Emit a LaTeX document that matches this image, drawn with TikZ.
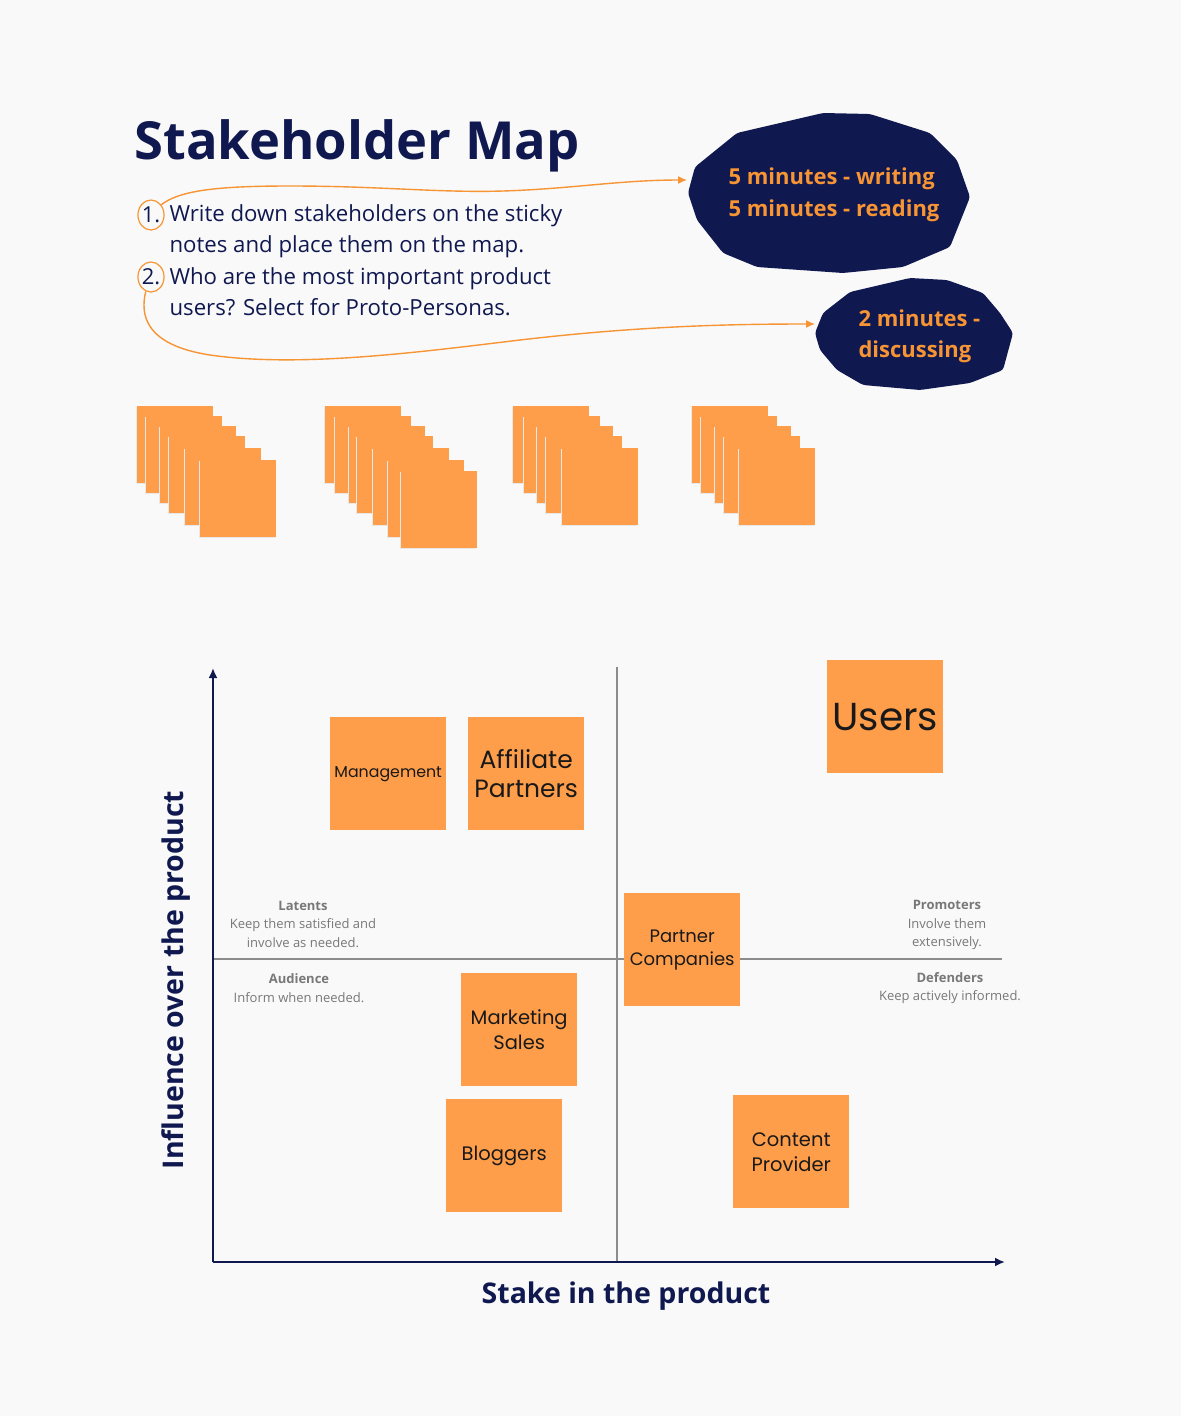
\documentclass[tikz,border=0pt]{standalone}
\usepackage{fontspec}
\setmainfont{Open Sans}
\newfontfamily\notefont{Poppins}
\usetikzlibrary{arrows.meta,shapes.geometric}
\definecolor{navy}{RGB}{16,24,80}
\definecolor{stickyorange}{RGB}{255,158,74}
\definecolor{linkorange}{RGB}{247,148,52}
\definecolor{quadgrey}{RGB}{140,140,140}
\definecolor{labelgrey}{RGB}{120,120,120}
\definecolor{paper}{RGB}{249,249,249}
\tikzset{
    sticky/.style 2 args={fill=stickyorange, minimum width=116pt, minimum height=113pt,
        inner sep=0pt, align=center, text=black!90, anchor=north west,
        font=\notefont\fontsize{#1}{#2}\selectfont},
    stackpad/.style={fill=stickyorange},
    padshadow/.style={fill=black!9},
    numcircle/.style={ellipse, draw=linkorange, line width=1.2pt, minimum width=26pt,
        minimum height=30pt, inner sep=0pt, text=navy, font=\fontsize{22}{31.3}\selectfont},
    link/.style={draw=linkorange, line width=1.4pt, -{Latex[length=9pt,width=8pt]}},
    axis/.style={draw=navy, line width=2pt, -{Latex[length=10pt,width=9pt]}},
    quadline/.style={draw=quadgrey, line width=1.6pt},
    quadtext/.style={text=labelgrey, align=center, font=\fontsize{13}{18.5}\selectfont}
}
\begin{document}
\begin{tikzpicture}[x=1pt, y=-1pt]
    \fill[paper] (0,0) rectangle (1181,1416);
    \useasboundingbox (0,0) rectangle (1181,1416);

    % heading and steps
    \node[anchor=base west, text=navy, font=\bfseries\fontsize{52.5}{60}\selectfont] (title) at (131,159) {Stakeholder Map};
    \node[numcircle] (n1) at (151,215) {1.};
    \node[numcircle] (n2) at (151,277) {2.};
    \node[anchor=west, align=left, text=navy, font=\fontsize{22.2}{31.3}\selectfont] (step1) at (166,231)
        {Write down stakeholders on the sticky\\notes and place them on the map.};
    \node[anchor=west, align=left, text=navy, font=\fontsize{22.2}{31.3}\selectfont] (step2) at (166,292)
        {Who are the most important product\\users? Select for Proto-Personas.};

    % timing blobs
    \fill[navy, rounded corners=3pt] (737,133) -- (823,113) -- (870,114) -- (930,133) -- (957,160)
        -- (970,197) -- (950,247) -- (903,267) -- (843,273) -- (757,267) -- (723,253)
        -- (697,220) -- (688,193) -- (695,167) -- cycle;
    \fill[navy, rounded corners=3pt] (850,292) -- (910,278) -- (947,280) -- (983,293) -- (1000,313)
        -- (1013,333) -- (1003,370) -- (970,383) -- (920,390) -- (863,385) -- (837,370)
        -- (820,350) -- (815,333) -- (823,313) -- cycle;
    \node[anchor=west, align=left, text=linkorange, font=\bfseries\fontsize{22}{32}\selectfont] (writing) at (725,195)
        {5 minutes - writing\\5 minutes - reading};
    \node[anchor=west, align=left, text=linkorange, font=\bfseries\fontsize{22}{31}\selectfont] (discuss) at (855,336)
        {2 minutes -\\discussing};
    \coordinate (blobAin) at (687,180);
    \coordinate (blobBin) at (815,324);
    \draw[link] (n1.45) .. controls (180,190) and (220,186) .. (290,186)
        .. controls (380,186) and (440,193) .. (503,191)
        .. controls (570,189) and (620,180) .. (blobAin);
    \draw[link] (n2.250) .. controls (140,315) and (145,345) .. (210,355)
        .. controls (300,368) and (420,352) .. (520,340)
        .. controls (640,326) and (730,324) .. (blobBin);

    % blank sticky note stacks
    \foreach \px/\py in {137/406,146/416,160/426,169/436,185/448,200/460} {
        \fill[padshadow] (\px-0.6,\py+1.4) rectangle ++(76,77);
        \fill[stackpad] (\px,\py) rectangle ++(76,77);
    }
    \foreach \px/\py in {325/406,335/416,349/426,357/436,373/448,388/460,401/471} {
        \fill[padshadow] (\px-0.6,\py+1.4) rectangle ++(76,77);
        \fill[stackpad] (\px,\py) rectangle ++(76,77);
    }
    \foreach \px/\py in {513/406,524/416,537/426,546/436,562/448} {
        \fill[padshadow] (\px-0.6,\py+1.4) rectangle ++(76,77);
        \fill[stackpad] (\px,\py) rectangle ++(76,77);
    }
    \foreach \px/\py in {692/406,701/416,715/426,724/436,739/448} {
        \fill[padshadow] (\px-0.6,\py+1.4) rectangle ++(76,77);
        \fill[stackpad] (\px,\py) rectangle ++(76,77);
    }

    % map axes and quadrants
    \coordinate (origin) at (213,1262);
    \coordinate (ytop) at (213,668);
    \coordinate (xend) at (1005,1262);
    \coordinate (vtop) at (617,667);
    \coordinate (vbot) at (617,1262);
    \coordinate (hleft) at (213,959);
    \coordinate (hright) at (1002,959);
    \draw[quadline] (vtop) -- (vbot);
    \draw[quadline] (hleft) -- (hright);
    \draw[axis] (origin) -- (ytop);
    \draw[axis] (origin) -- (xend);
    \node[text=navy, font=\bfseries\fontsize{28.5}{32}\selectfont] (xlabel) at (626,1296) {Stake in the product};
    \node[text=navy, font=\bfseries\fontsize{28.5}{32}\selectfont, rotate=90] (ylabel) at (176,980) {Influence over the product};

    \node[quadtext] (latents) at (303,924) {\textbf{Latents}\\Keep them satisfied and\\involve as needed.};
    \node[quadtext] (audience) at (299,988) {\textbf{Audience}\\Inform when needed.};
    \node[quadtext] (promoters) at (947,925) {\textbf{Promoters}\\Involve them\\extensively.};
    \node[quadtext] (defenders) at (950,988) {\textbf{Defenders}\\Keep actively informed.};

    % stakeholders on the map
    \node[sticky={15.8}{19}] (management) at (330,717) {Management};
    \node[sticky={25}{29}] (affiliate) at (468,717) {Affiliate\\Partners};
    \node[sticky={39}{44}] (users) at (827,660) {Users};
    \node[sticky={18}{23}] (partners) at (624,893) {Partner\\Companies};
    \node[sticky={19.5}{25}] (marketing) at (461,973) {Marketing\\Sales};
    \node[sticky={19.5}{24}] (bloggers) at (446,1099) {Bloggers};
    \node[sticky={19.5}{25}] (content) at (733,1095) {Content\\Provider};
\end{tikzpicture}
\end{document}
